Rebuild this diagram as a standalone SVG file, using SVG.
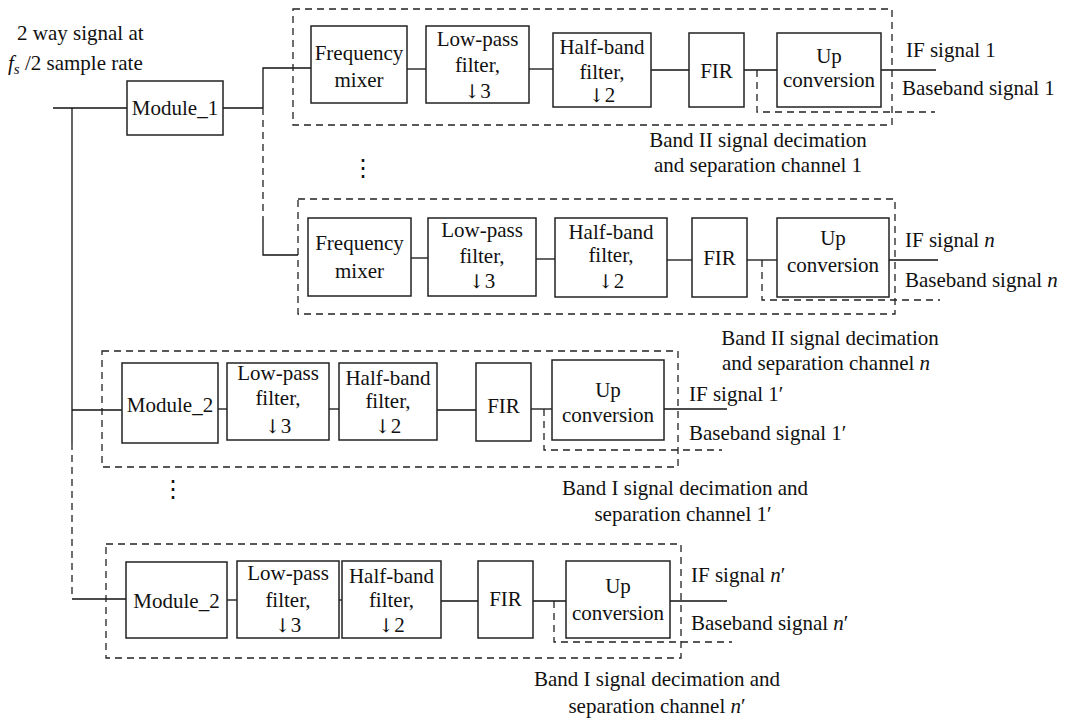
<svg xmlns="http://www.w3.org/2000/svg" width="1069" height="725" viewBox="0 0 1069 725">
<style>
.box{fill:none;stroke:#222;stroke-width:1.5}
.w{fill:none;stroke:#111;stroke-width:1.3}
.d{fill:none;stroke:#222;stroke-width:1.3;stroke-dasharray:7 5}
.t{font-family:"Liberation Serif","Times New Roman",serif;font-size:21px;fill:#111}
.m{text-anchor:middle}
.i{font-style:italic}
.a{font-family:"DejaVu Serif",serif;font-size:19px}
.dots{font-family:"DejaVu Serif",serif;font-size:24px;fill:#111;text-anchor:middle}
</style>
<rect width="1069" height="725" fill="#fff"/>

<g id="input-label" class="t">
<text x="17" y="40">2 way signal at</text>
<text x="8" y="70"><tspan class="i">f</tspan><tspan class="i" font-size="15" dy="4">s</tspan><tspan dy="-4"> /2 sample rate</tspan></text>
</g>

<g id="connectors">
<polyline class="w" points="53,108 127,108"/>
<polyline class="w" points="72,108 72,443"/>
<polyline class="d" points="72,443 72,599"/>
<polyline class="w" points="72,599 126,599"/>
<polyline class="w" points="72,410 122,410"/>
<polyline class="w" points="223,108 263,108"/>
<polyline class="w" points="311,68 263,68 263,108"/>
<polyline class="d" points="263,108 263,218"/>
<polyline class="w" points="263,218 263,255 298,255"/>
<line class="w" x1="407" y1="69" x2="426" y2="69"/>
<line class="w" x1="529" y1="69" x2="553" y2="69"/>
<line class="w" x1="651" y1="70" x2="689" y2="70"/>
<line class="w" x1="744" y1="70" x2="777" y2="70"/>
<line class="w" x1="881" y1="70" x2="936" y2="70"/>
<line class="w" x1="411" y1="258" x2="428" y2="258"/>
<line class="w" x1="536" y1="259" x2="555" y2="259"/>
<line class="w" x1="667" y1="260" x2="692" y2="260"/>
<line class="w" x1="747" y1="260" x2="777" y2="260"/>
<line class="w" x1="889" y1="260" x2="938" y2="260"/>
<line class="w" x1="218" y1="409" x2="227" y2="409"/>
<line class="w" x1="329" y1="409" x2="339" y2="409"/>
<line class="w" x1="437" y1="410" x2="476" y2="410"/>
<line class="w" x1="531" y1="409" x2="552" y2="409"/>
<line class="w" x1="664" y1="409" x2="727" y2="409"/>
<line class="w" x1="227" y1="600" x2="237" y2="600"/>
<line class="w" x1="339" y1="600" x2="342" y2="600"/>
<line class="w" x1="441" y1="601" x2="478" y2="601"/>
<line class="w" x1="533" y1="601" x2="566" y2="601"/>
<line class="w" x1="670" y1="601" x2="727" y2="601"/>
<polyline class="d" points="757,70 757,112 935,112"/>
<polyline class="d" points="762,260 762,300 940,300"/>
<polyline class="d" points="544,409 544,450 722,450"/>
<polyline class="d" points="554,601 554,642 732,642"/>
</g>

<g id="module1"><rect class="box" x="127" y="81" width="96" height="54"/><text class="t m" x="175" y="115">Module_1</text></g>

<g id="channel1">
<rect class="d" x="293" y="9" width="599" height="116"/>
<text class="t m" x="758" y="147">Band II signal decimation</text>
<text class="t m" x="758" y="172">and separation channel 1</text>
<text class="t" x="906" y="57">IF signal 1</text>
<text class="t" x="902" y="95">Baseband signal 1</text>
</g>
<g id="mixer1"><rect class="box" x="311" y="26" width="96" height="77"/><text class="t m" x="359" y="60">Frequency</text><text class="t m" x="359" y="87">mixer</text></g>
<g id="lpf1"><rect class="box" x="426" y="26" width="103" height="77"/><text class="t m" x="477.5" y="46">Low-pass</text><text class="t m" x="477.5" y="72">filter,</text><text class="t m" x="477.5" y="98"><tspan class="a">↓</tspan>3</text></g>
<g id="hbf1"><rect class="box" x="553" y="33" width="98" height="74"/><text class="t m" x="602" y="54">Half-band</text><text class="t m" x="602" y="79">filter,</text><text class="t m" x="602" y="102"><tspan class="a">↓</tspan>2</text></g>
<g id="fir1"><rect class="box" x="689" y="33" width="55" height="74"/><text class="t m" x="716.5" y="78">FIR</text></g>
<g id="up1"><rect class="box" x="777" y="33" width="104" height="74"/><text class="t m" x="829" y="63">Up</text><text class="t m" x="829" y="87">conversion</text></g>

<g id="ellipsis1"><text class="dots" x="363" y="176">⋮</text></g>

<g id="channeln">
<rect class="d" x="298" y="199" width="597" height="115"/>
<text class="t m" x="830" y="345">Band II signal decimation</text>
<text class="t m" x="826" y="370">and separation channel <tspan class="i">n</tspan></text>
<text class="t" x="905" y="247">IF signal <tspan class="i">n</tspan></text>
<text class="t" x="905" y="287">Baseband signal <tspan class="i">n</tspan></text>
</g>
<g id="mixern"><rect class="box" x="308" y="218" width="103" height="78"/><text class="t m" x="359.5" y="250">Frequency</text><text class="t m" x="359.5" y="278">mixer</text></g>
<g id="lpfn"><rect class="box" x="428" y="218" width="108" height="78"/><text class="t m" x="482" y="237">Low-pass</text><text class="t m" x="482" y="263">filter,</text><text class="t m" x="482" y="288"><tspan class="a">↓</tspan>3</text></g>
<g id="hbfn"><rect class="box" x="555" y="218" width="112" height="79"/><text class="t m" x="611" y="239">Half-band</text><text class="t m" x="611" y="262">filter,</text><text class="t m" x="611" y="288"><tspan class="a">↓</tspan>2</text></g>
<g id="firn"><rect class="box" x="692" y="218" width="55" height="79"/><text class="t m" x="719.5" y="265">FIR</text></g>
<g id="upn"><rect class="box" x="777" y="218" width="112" height="79"/><text class="t m" x="833" y="245">Up</text><text class="t m" x="833" y="272">conversion</text></g>

<g id="channel1p">
<rect class="d" x="102" y="351" width="576" height="116"/>
<text class="t m" x="685" y="495">Band I signal decimation and</text>
<text class="t m" x="683" y="521">separation channel 1′</text>
<text class="t" x="689" y="401">IF signal 1′</text>
<text class="t" x="689" y="440">Baseband signal 1′</text>
</g>
<g id="module2a"><rect class="box" x="122" y="363" width="96" height="80"/><text class="t m" x="170" y="412">Module_2</text></g>
<g id="lpf1p"><rect class="box" x="227" y="363" width="102" height="77"/><text class="t m" x="278" y="380">Low-pass</text><text class="t m" x="278" y="405">filter,</text><text class="t m" x="278" y="433"><tspan class="a">↓</tspan>3</text></g>
<g id="hbf1p"><rect class="box" x="339" y="363" width="98" height="77"/><text class="t m" x="388" y="385">Half-band</text><text class="t m" x="388" y="408">filter,</text><text class="t m" x="388" y="433"><tspan class="a">↓</tspan>2</text></g>
<g id="fir1p"><rect class="box" x="476" y="363" width="55" height="78"/><text class="t m" x="503.5" y="413">FIR</text></g>
<g id="up1p"><rect class="box" x="552" y="360" width="112" height="80"/><text class="t m" x="608" y="397">Up</text><text class="t m" x="608" y="422">conversion</text></g>

<g id="ellipsis2"><text class="dots" x="173" y="497">⋮</text></g>

<g id="channelnp">
<rect class="d" x="106" y="544" width="575" height="114"/>
<text class="t m" x="657" y="686">Band I signal decimation and</text>
<text class="t m" x="657" y="713">separation channel <tspan class="i">n</tspan>′</text>
<text class="t" x="691" y="582">IF signal <tspan class="i">n</tspan>′</text>
<text class="t" x="691" y="630">Baseband signal <tspan class="i">n</tspan>′</text>
</g>
<g id="module2b"><rect class="box" x="126" y="562" width="101" height="76"/><text class="t m" x="176.5" y="608">Module_2</text></g>
<g id="lpfnp"><rect class="box" x="237" y="561" width="102" height="77"/><text class="t m" x="288" y="580">Low-pass</text><text class="t m" x="288" y="607">filter,</text><text class="t m" x="288" y="632"><tspan class="a">↓</tspan>3</text></g>
<g id="hbfnp"><rect class="box" x="342" y="561" width="99" height="77"/><text class="t m" x="391.5" y="583">Half-band</text><text class="t m" x="391.5" y="607">filter,</text><text class="t m" x="391.5" y="632"><tspan class="a">↓</tspan>2</text></g>
<g id="firnp"><rect class="box" x="478" y="561" width="55" height="77"/><text class="t m" x="505.5" y="606">FIR</text></g>
<g id="upnp"><rect class="box" x="566" y="561" width="104" height="77"/><text class="t m" x="618" y="593">Up</text><text class="t m" x="618" y="620">conversion</text></g>
</svg>
